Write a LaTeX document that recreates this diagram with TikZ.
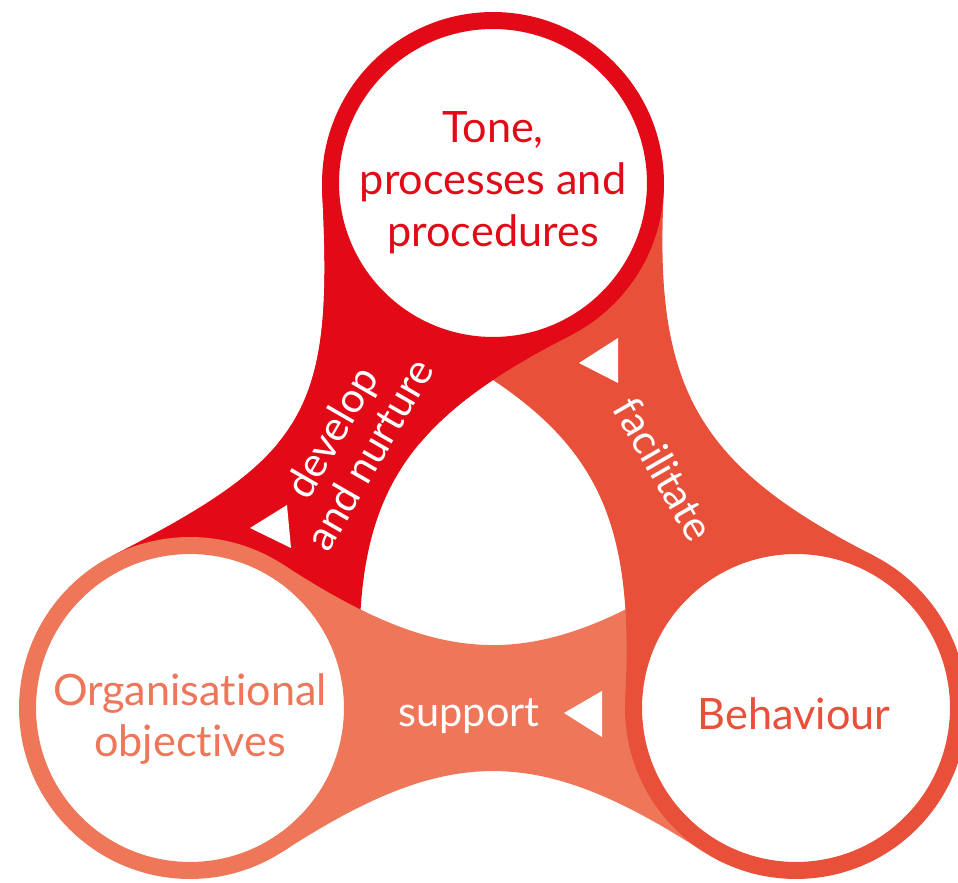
\documentclass[tikz,border=0pt]{standalone}
\usepackage{fontspec}
\setmainfont{Lato}[Ligatures=NoCommon]
\usepackage{xcolor}
\usepackage{tikz}

\definecolor{tonered}{HTML}{E30A17}
\definecolor{behorange}{HTML}{E9503A}
\definecolor{objsalmon}{HTML}{EE7659}

\begin{document}
\begin{tikzpicture}[x=0.02cm, y=0.02cm,
    ring/.style={circle, draw=#1, fill=white, line width=0.34cm, minimum size=6.5cm,
        inner sep=0pt, text=#1, align=center, font=\fontsize{24.6}{29.5}\selectfont},
    caption/.style={text=#1, align=center, font=\fontsize{24.6}{29.5}\selectfont},
    word/.style={text=white, align=center, font=\fontsize{23.6}{25}\selectfont}]
    \useasboundingbox (0,0) rectangle (958,883);
    \clip (0,0) rectangle (958,883);

    \coordinate (t) at (493,700);
    \coordinate (o) at (190,175);
    \coordinate (b) at (796,175);

    % bands, each one runs under the next circle
    \fill[tonered] (322.2,691.1) .. controls (333.7,471.4) and (308.4,427.3) .. (112.4,327.4) -- (o)
        -- (360.8,183.9) .. controls (350.5,380.6) and (395.1,458.2) .. (570.6,547.6) -- (t) -- cycle;
    \fill[objsalmon] (283.1,318.4) .. controls (448.3,211.1) and (537.7,211.1) .. (702.9,318.4) -- (b)
        -- (702.9,31.6) .. controls (537.7,138.7) and (448.3,138.7) .. (283.1,31.6) -- (o) -- cycle;
    \fill[behorange] (873.6,327.4) .. controls (698.1,416.8) and (653.5,494.4) .. (663.8,691.1) -- (t)
        -- (415.4,547.6) .. controls (590.9,458.2) and (635.5,380.6) .. (625.2,183.9) -- (b) -- cycle;
    \begin{scope}
        \clip (0,440) rectangle (958,883);
        \fill[tonered] (322.2,691.1) .. controls (333.7,471.4) and (308.4,427.3) .. (112.4,327.4) -- (o)
            -- (360.8,183.9) .. controls (350.5,380.6) and (395.1,458.2) .. (570.6,547.6) -- (t) -- cycle;
    \end{scope}

    \node[ring=tonered] (tone) at (t) {Tone,\\processes and\\procedures};
    \node[ring=objsalmon] (obj) at (o) {};
    \node[ring=behorange] (beh) at (b) {};
    \node[caption=objsalmon] (objtext) at (190,164) {Organisational\\objectives};
    \node[caption=behorange, anchor=base] (behtext) at (794,153) {Behaviour};

    \node[word, rotate=60] (dev) at (350,440) {develop\\and nurture};
    \node[word, rotate=-60] (fac) at (664,414) {facilitate};
    \node[word, anchor=base] (sup) at (469,156) {support};

    % arrow heads
    \fill[white] (250,355) -- (287,378) -- (291,335) -- cycle;
    \fill[white] (579,520) -- (618,545) -- (618,500) -- cycle;
    \fill[white] (564,170) -- (602,192) -- (602,146) -- cycle;
\end{tikzpicture}
\end{document}
